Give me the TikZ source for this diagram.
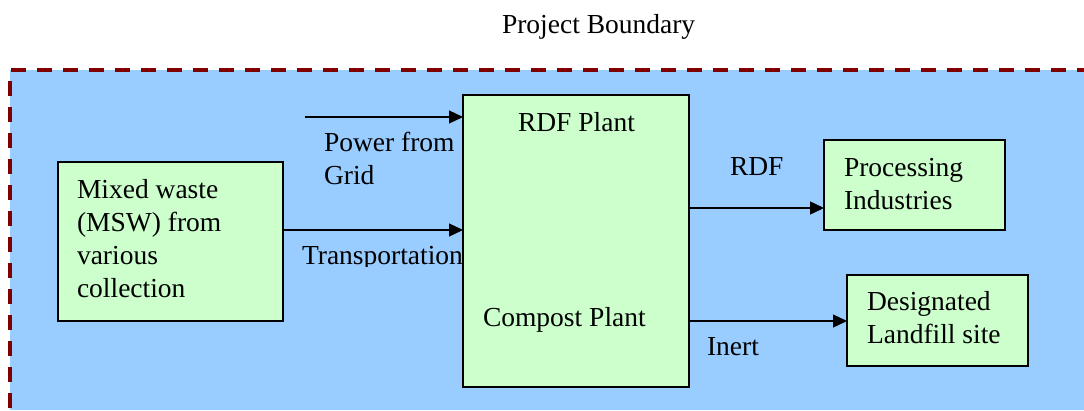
\documentclass[tikz,border=0pt]{standalone}
\usepackage{fontspec}
\setmainfont{Liberation Serif}
\usetikzlibrary{arrows.meta}
\definecolor{bluebg}{HTML}{99CCFF}
\definecolor{boxgreen}{HTML}{CCFFCC}
\definecolor{dashred}{HTML}{800000}
\newcommand{\mylines}[1]{\begin{tabular}[t]{@{}l@{}}#1\end{tabular}}
\begin{document}
\begin{tikzpicture}[x=1pt,y=-1pt,
  box/.style={draw=black,line width=1.5pt,fill=boxgreen,inner sep=0pt,outer sep=0pt,anchor=north west},
  txt/.style={inner sep=0pt,outer sep=0pt,anchor=base west,font=\fontsize{27.5}{33}\selectfont},
  arr/.style={line width=1.3pt,-{Triangle[length=14pt,width=13pt]}},
  boundary/.style={draw=dashred,line width=3.5pt,dash pattern=on 15pt off 11pt}]
\useasboundingbox (0,0) rectangle (1084,410);
\fill[bluebg] (10,70) rectangle (1084,410);
\draw[boundary] (11,70) -- (1084,70);
\draw[boundary] (10,81) -- (10,410);
\node[txt] (title) at (502,33) {Project Boundary};
\begin{scope}
  \clip (290,236) rectangle (470,266);
  \node[txt] (transp) at (302,264) {Transportation};
\end{scope}
\node[box,minimum width=225pt,minimum height=159pt] (mix) at (58,162) {};
\node[box,minimum width=226pt,minimum height=292pt] (plant) at (463,95) {};
\node[box,minimum width=181pt,minimum height=90pt] (proc) at (824,140) {};
\node[box,minimum width=181pt,minimum height=91pt] (land) at (847,275) {};
\node[txt] (mixt) at (77,198) {\mylines{Mixed waste\\(MSW) from\\various\\collection}};
\node[txt] (power) at (324,151) {\mylines{Power from\\Grid}};
\node[txt] (rdfp) at (518,131) {RDF Plant};
\node[txt] (comp) at (483,326) {Compost Plant};
\node[txt] (proct) at (844,176) {\mylines{Processing\\Industries}};
\node[txt] (landt) at (867,310) {\mylines{Designated\\Landfill site}};
\node[txt] (rdfl) at (730,175) {RDF};
\node[txt] (inert) at (707,355) {Inert};
\coordinate (pw) at (305,117);
\coordinate (ty) at (0,230);
\coordinate (ry) at (0,208);
\coordinate (iy) at (0,321);
\draw[arr] (pw) -- (plant.west |- pw);
\draw[arr] (mix.east |- ty) -- (plant.west |- ty);
\draw[arr] (plant.east |- ry) -- (proc.west |- ry);
\draw[arr] (plant.east |- iy) -- (land.west |- iy);
\end{tikzpicture}
\end{document}
